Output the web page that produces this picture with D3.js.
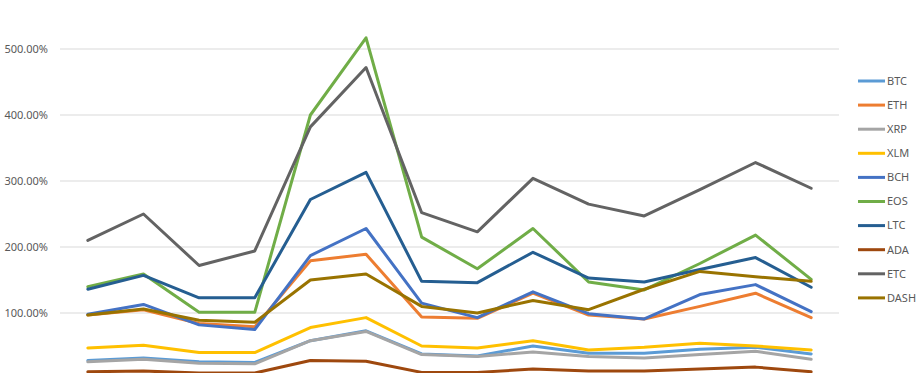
<html>
<meta charset="utf-8"></meta>
<script src="https://cdn.jsdelivr.net/npm/d3@7/dist/d3.min.js" charset="utf-8"></script>
<style>
body{margin:0;overflow:hidden;background:#fff;}
text{font-family:"Noto Sans",sans-serif;font-size:11px;fill:#595959;}
</style>
<body onload="load();">
<svg id="idSvg001"></svg>
<script type="text/javascript">
// values in %
var periods = ["1","2","3","4","5","6","7","8","9","10","11","12","13","14"];
var names = ["BTC","ETH","XRP","XLM","BCH","EOS","LTC","ADA","ETC","DASH"];
var colors = ["#5B9BD5","#ED7D31","#A5A5A5","#FFC000","#4472C4","#70AD47","#255E91","#9E480E","#636363","#997300"];
var yTicks = [0,100,200,300,400,500];

var BTC  = [28,32,26,25,58,73,38,35,50,39,39,45,48,38];
var ETH  = [97,105,84,79,179,189,94,92,130,97,91,110,130,93];
var XRP  = [26,30,24,23,58,72,37,34,41,34,32,37,42,30];
var XLM  = [47,51,40,40,78,93,50,47,58,44,48,54,50,44];
var BCH  = [98,113,82,75,187,228,115,93,132,99,91,128,143,102];
var EOS  = [140,159,101,101,400,517,215,167,228,147,135,175,218,151];
var LTC  = [136,157,123,123,272,313,148,146,192,153,147,166,184,139];
var ADA  = [11,12,9,9,28,27,10,10,15,12,12,15,18,11];
var ETC  = [210,250,172,194,382,472,252,223,304,265,247,287,328,289];
var DASH = [97,106,89,86,150,159,110,100,119,105,136,163,155,148];

var series = [BTC,ETH,XRP,XLM,BCH,EOS,LTC,ADA,ETC,DASH];

function load(){
	var width = 924, height = 373;
	var svg = d3.select("#idSvg001").attr("width",width).attr("height",height);

	var x = d3.scalePoint().domain(periods).range([60,839]).padding(0.5);
	var y = d3.scaleLinear().domain([0,500]).range([379,49]);

	var grid = svg.append("g");
	grid.selectAll("line").data(yTicks).enter().append("line")
		.attr("x1",60).attr("x2",839)
		.attr("y1",function(d){return y(d);}).attr("y2",function(d){return y(d);})
		.attr("stroke","#D9D9D9").attr("stroke-width",1);

	var yAxis = svg.append("g").attr("transform","translate(48,0)")
		.call(d3.axisLeft(y).tickValues(yTicks).tickSize(0).tickPadding(0)
			.tickFormat(function(d){return d3.format(".2%")(d/100);}));
	yAxis.select(".domain").remove();
	yAxis.selectAll("text").style("font-family","Noto Sans").style("font-size","11px").attr("fill","#595959");

	var line = d3.line().x(function(d,i){return x(periods[i]);}).y(function(d){return y(d);});

	svg.append("g").selectAll("path").data(series).enter().append("path")
		.attr("d",line).attr("fill","none")
		.attr("stroke",function(d,i){return colors[i];})
		.attr("stroke-width",3).attr("stroke-linejoin","round").attr("stroke-linecap","round");

	var lg = svg.append("g").selectAll("g").data(names).enter().append("g")
		.attr("transform",function(d,i){return "translate(858,"+(81+i*24.1)+")";});
	lg.append("line").attr("x1",0).attr("x2",27).attr("y1",0).attr("y2",0)
		.attr("stroke",function(d,i){return colors[i];}).attr("stroke-width",3);
	lg.append("text").attr("x",29).attr("y",0).attr("dy","0.35em").text(function(d){return d;});
}
</script>
</body>
</html>
